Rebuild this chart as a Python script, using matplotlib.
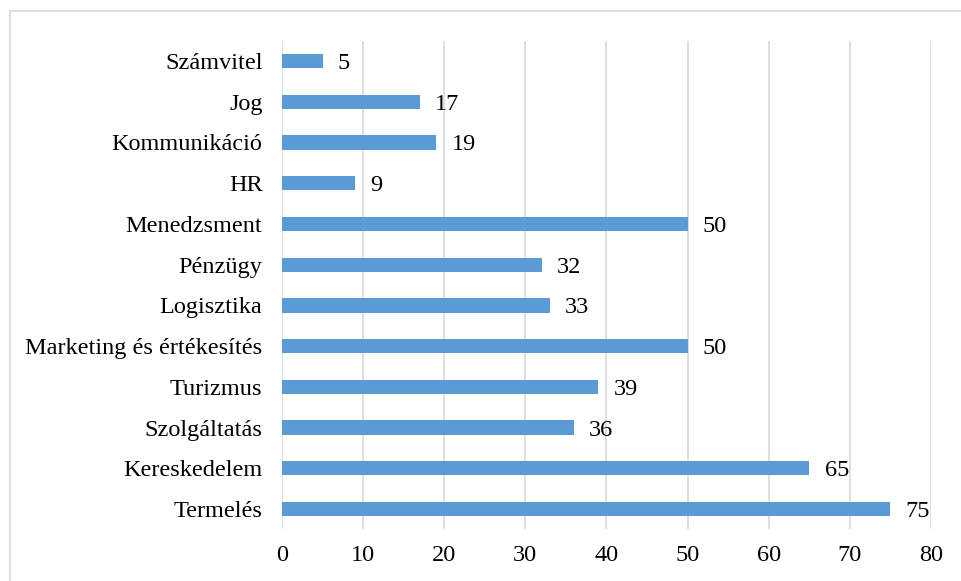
import matplotlib.pyplot as plt
from matplotlib.patches import Rectangle

# categories bottom -> top
categories = ['Termelés', 'Kereskedelem', 'Szolgáltatás', 'Turizmus',
              'Marketing és értékesítés', 'Logisztika', 'Pénzügy', 'Menedzsment',
              'HR', 'Kommunikáció', 'Jog', 'Számvitel']
values = [75, 65, 36, 39, 50, 33, 32, 50, 9, 19, 17, 5]
xticks = [0, 10, 20, 30, 40, 50, 60, 70, 80]

plt.rcParams['font.family'] = ['Liberation Serif', 'DejaVu Serif']

fig = plt.figure(figsize=(9.61, 5.81), dpi=100)
ax = fig.add_axes([0.2934, 0.0888, 0.6754, 0.8413])

# light frame around the chart (cut at right and bottom like the reference)
fig.patches.append(Rectangle((10 / 961, -0.05), 1.0, 1 - 11 / 581 + 0.05,
                             transform=fig.transFigure, fill=False,
                             edgecolor='#d9d9d9', linewidth=1.2))

pos = list(range(len(categories)))
ax.barh(pos, values, height=0.35, color='#5b9bd5', zorder=3)

for p, v in zip(pos, values):
    ax.annotate(str(v), (v, p), xytext=(11, 0), textcoords='offset points',
                va='center_baseline', ha='left', fontsize=17.5, color='black')

ax.set_xlim(0, 80)
ax.set_ylim(-0.5, len(categories) - 0.5)
ax.set_xticks(xticks)
ax.set_yticks(pos)
ax.set_yticklabels(categories)
ax.tick_params(axis='both', length=0, labelsize=17.5)
ax.tick_params(axis='y', pad=14)
ax.tick_params(axis='x', pad=11)
ax.xaxis.grid(True, color='#d9d9d9', linewidth=1.2, zorder=0)
ax.set_axisbelow(True)
for s in ax.spines.values():
    s.set_visible(False)

fig.savefig('out.png', dpi=100)
